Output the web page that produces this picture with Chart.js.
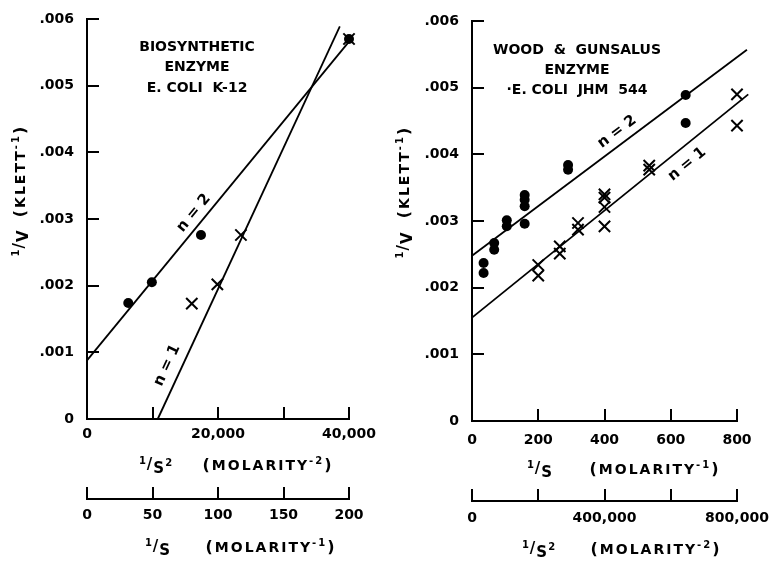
<!DOCTYPE html>
<html><head><meta charset="utf-8">
<script src="https://cdn.jsdelivr.net/npm/chart.js@4/dist/chart.umd.min.js"></script>
<style>
html,body{margin:0;padding:0;background:#fff;}
#wrap{position:relative;width:770px;height:563px;overflow:hidden;}
.c{position:absolute;top:0;width:385px;height:563px;}
</style></head><body>
<div id="wrap">
<div class="c" style="left:0"><canvas id="left" width="385" height="563"></canvas></div>
<div class="c" style="left:385px"><canvas id="right" width="385" height="563"></canvas></div>
</div>
<script>
// ---------- Left panel: biosynthetic enzyme, E. coli K-12 (x = 1/S^2) ----------
const leftN2X = [6300, 9900, 17400, 40000];
const leftN2Y = [0.00174, 0.00205, 0.00276, 0.00570];
const leftN1X = [16000, 19900, 23500, 40000];
const leftN1Y = [0.00173, 0.00202, 0.00276, 0.00570];
const leftFitN2X = [0, 40000];
const leftFitN2Y = [0.00088, 0.00566];
const leftFitN1X = [10800, 38600];
const leftFitN1Y = [0, 0.00589];
const leftXTicks = [0, 10000, 20000, 30000, 40000];
const leftXTickLabels = ['0', '', '20,000', '', '40,000'];
const leftX2Ticks = [0, 50, 100, 150, 200];
const leftX2TickLabels = ['0', '50', '100', '150', '200'];

// ---------- Right panel: Wood & Gunsalus enzyme, E. coli JHM 544 (x = 1/S) ----------
const rightN2X = [35, 35, 67, 67, 105, 105, 159, 159, 159, 159, 290, 290, 645, 645];
const rightN2Y = [0.00237, 0.00222, 0.00267, 0.00257, 0.00301, 0.00292, 0.00339, 0.00332, 0.00322, 0.00296, 0.00384, 0.00377, 0.00489, 0.00447];
const rightN1X = [200, 200, 265, 265, 320, 320, 400, 400, 400, 400, 535, 535, 800, 800];
const rightN1Y = [0.00234, 0.00218, 0.00262, 0.00251, 0.00297, 0.00287, 0.00340, 0.00335, 0.00321, 0.00292, 0.00383, 0.00377, 0.00490, 0.00443];
const rightFitN2X = [0, 830];
const rightFitN2Y = [0.00248, 0.00557];
const rightFitN1X = [0, 834];
const rightFitN1Y = [0.00155, 0.00490];
const rightXTicks = [0, 200, 400, 600, 800];
const rightXTickLabels = ['0', '200', '400', '600', '800'];
const rightX2Ticks = [0, 200000, 400000, 600000, 800000];
const rightX2TickLabels = ['0', '', '400,000', '', '800,000'];

// shared y axis
const yTicks = [0, 0.001, 0.002, 0.003, 0.004, 0.005, 0.006];
const yTickLabels = ['0', '.001', '.002', '.003', '.004', '.005', '.006'];

// text
const leftTitle = ['BIOSYNTHETIC', 'ENZYME', 'E. COLI  K-12'];
const rightTitle = ['WOOD  &  GUNSALUS', 'ENZYME', '·E. COLI  JHM  544'];

const FAM = "'DejaVu Sans', sans-serif";

function pts(xs, ys) { return xs.map((x, i) => ({x: x, y: ys[i]})); }

function drawPieces(ctx, list, cx, cy, spacing) {
  ctx.letterSpacing = spacing + 'px';
  let total = 0;
  const ws = list.map(p => { ctx.font = 'bold ' + p.s + 'px ' + FAM; const w = ctx.measureText(p.t).width; total += w; return w; });
  let x = cx - total / 2;
  ctx.textAlign = 'left'; ctx.textBaseline = 'middle';
  list.forEach((p, i) => { ctx.font = 'bold ' + p.s + 'px ' + FAM; ctx.fillText(p.t, x, cy + (p.dy || 0)); x += ws[i]; });
}

function fracS(sq) {
  const a = [{t: '1', s: 10, dy: -5}, {t: '/', s: 15, dy: -1}, {t: 'S', s: 15, dy: 3}];
  if (sq) a.push({t: '2', s: 10, dy: -3});
  return a;
}
function molar(p) {
  return [{t: '(', s: 16}, {t: 'MOLARITY', s: 14}, {t: '-' + p, s: 10, dy: -5}, {t: ')', s: 16}];
}

const annotPlugin = {
  id: 'annot',
  afterDraw(chart) {
    const o = chart.options.plugins.annot;
    const ctx = chart.ctx;
    const xs = chart.scales.x, x2 = chart.scales.x2, ys = chart.scales.y;
    ctx.save();
    ctx.fillStyle = '#000'; ctx.strokeStyle = '#000';
    // inward tick marks
    ctx.lineWidth = 2;
    ctx.beginPath();
    ys.ticks.forEach(t => { if (t.value === 0) return; const py = Math.round(ys.getPixelForValue(t.value)); ctx.moveTo(ys.right, py); ctx.lineTo(ys.right + 12, py); });
    xs.ticks.forEach(t => { if (t.value === 0) return; const px = Math.round(xs.getPixelForValue(t.value)); ctx.moveTo(px, xs.top); ctx.lineTo(px, xs.top - 12); });
    x2.ticks.forEach(t => { const px = Math.round(x2.getPixelForValue(t.value)); ctx.moveTo(px, x2.top + 1); ctx.lineTo(px, x2.top - 12); });
    ctx.stroke();
    // panel title
    ctx.letterSpacing = '0px';
    ctx.font = 'bold 14px ' + FAM; ctx.textAlign = 'center'; ctx.textBaseline = 'middle';
    o.title.forEach((t, i) => ctx.fillText(t, o.titleX, o.titleY[i]));
    // axis titles
    drawPieces(ctx, o.xTitle[0], o.xTitlePos[0], o.xTitlePos[2], 1);
    drawPieces(ctx, o.xTitle[1], o.xTitlePos[1], o.xTitlePos[2], 2);
    drawPieces(ctx, o.x2Title[0], o.x2TitlePos[0], o.x2TitlePos[2], 1);
    drawPieces(ctx, o.x2Title[1], o.x2TitlePos[1], o.x2TitlePos[2], 2);
    // y title (rotated)
    ctx.save();
    ctx.translate(o.yTitleX, 0);
    ctx.rotate(-Math.PI / 2);
    drawPieces(ctx, [{t: '1', s: 10, dy: -5}, {t: '/', s: 15, dy: -1}, {t: 'V', s: 15, dy: 3}], -o.yTitleY[1], 0, 1);
    drawPieces(ctx, [{t: '(', s: 16}, {t: 'KLETT', s: 14}, {t: '-1', s: 10, dy: -5}, {t: ')', s: 16}], -o.yTitleY[0], 0, 2);
    ctx.restore();
    // n labels along fitted lines
    o.nLabels.forEach(L => {
      const d = chart.data.datasets[L.ds].data;
      const p0x = xs.getPixelForValue(d[0].x), p0y = ys.getPixelForValue(d[0].y);
      const p1x = xs.getPixelForValue(d[1].x), p1y = ys.getPixelForValue(d[1].y);
      const ang = Math.atan2(p1y - p0y, p1x - p0x);
      const ax = xs.getPixelForValue(L.at);
      const f = (ax - p0x) / (p1x - p0x);
      const ay = p0y + f * (p1y - p0y);
      ctx.save();
      ctx.translate(ax, ay); ctx.rotate(ang);
      ctx.letterSpacing = '0px';
      ctx.font = 'bold 15px ' + FAM; ctx.textAlign = 'center'; ctx.textBaseline = 'middle';
      ctx.fillText(L.text, 0, L.off);
      ctx.restore();
    });
    ctx.restore();
  }
};

function buildChart(id, cfg) {
  const tickFont = {family: FAM, size: 14, weight: 'bold'};
  return new Chart(document.getElementById(id), {
    type: 'scatter',
    data: {datasets: [
      {label: 'n = 2 fit', data: pts(cfg.fitN2X, cfg.fitN2Y), showLine: true, borderColor: '#000', borderWidth: 1.8, pointRadius: 0, clip: false},
      {label: 'n = 1 fit', data: pts(cfg.fitN1X, cfg.fitN1Y), showLine: true, borderColor: '#000', borderWidth: 1.8, pointRadius: 0, clip: false},
      {label: 'n = 2', data: pts(cfg.n2X, cfg.n2Y), pointStyle: 'circle', pointRadius: 5, backgroundColor: '#000', borderColor: '#000', borderWidth: 0, clip: false},
      {label: 'n = 1', data: pts(cfg.n1X, cfg.n1Y), pointStyle: 'crossRot', pointRadius: 8, backgroundColor: '#000', borderColor: '#000', borderWidth: 2, clip: false}
    ]},
    options: {
      responsive: false, animation: false, devicePixelRatio: 1,
      layout: {padding: {left: 0, right: cfg.padRight, top: cfg.padTop, bottom: 0}},
      plugins: {legend: {display: false}, tooltip: {enabled: false}, annot: cfg.annot},
      scales: {
        x: {type: 'linear', position: 'bottom', weight: 0, min: cfg.xTicks[0], max: cfg.xTicks[cfg.xTicks.length - 1],
            afterBuildTicks: s => { s.ticks = cfg.xTicks.map(v => ({value: v})); },
            afterFit: s => { s.height = cfg.xH; },
            ticks: {callback: (v, i) => cfg.xLabels[i], font: tickFont, color: '#000', padding: cfg.xPad, maxRotation: 0, autoSkip: false},
            grid: {display: false}, border: {display: true, color: '#000', width: 2}},
        x2: {type: 'linear', position: 'bottom', weight: 1, min: cfg.x2Ticks[0], max: cfg.x2Ticks[cfg.x2Ticks.length - 1],
            afterBuildTicks: s => { s.ticks = cfg.x2Ticks.map(v => ({value: v})); },
            afterFit: s => { s.height = cfg.x2H; },
            ticks: {callback: (v, i) => cfg.x2Labels[i], font: tickFont, color: '#000', padding: cfg.x2Pad, maxRotation: 0, autoSkip: false},
            grid: {display: false}, border: {display: true, color: '#000', width: 2}},
        y: {type: 'linear', position: 'left', min: 0, max: 0.006,
            afterBuildTicks: s => { s.ticks = yTicks.map(v => ({value: v})); },
            afterFit: s => { s.width = 87; },
            ticks: {callback: (v, i) => yTickLabels[i], font: tickFont, color: '#000', padding: 5, autoSkip: false},
            grid: {display: false}, border: {display: true, color: '#000', width: 2}}
      }
    },
    plugins: [annotPlugin]
  });
}

buildChart('left', {
  n2X: leftN2X, n2Y: leftN2Y, n1X: leftN1X, n1Y: leftN1Y,
  fitN2X: leftFitN2X, fitN2Y: leftFitN2Y, fitN1X: leftFitN1X, fitN1Y: leftFitN1Y,
  xTicks: leftXTicks, xLabels: leftXTickLabels, x2Ticks: leftX2Ticks, x2Labels: leftX2TickLabels,
  padRight: 36, padTop: 19, xH: 80, x2H: 64, xPad: -1, x2Pad: 0,
  annot: {
    title: leftTitle, titleX: 197, titleY: [47, 67.5, 88],
    xTitle: [fracS(true), molar('2')], xTitlePos: [156, 268, 466],
    x2Title: [fracS(false), molar('1')], x2TitlePos: [158, 271, 548],
    yTitleX: 21, yTitleY: [171, 243],
    nLabels: [{ds: 0, at: 17600, off: -11, text: 'n = 2'}, {ds: 1, at: 14180, off: -14, text: 'n = 1'}]
  }
});

buildChart('right', {
  n2X: rightN2X, n2Y: rightN2Y, n1X: rightN1X, n1Y: rightN1Y,
  fitN2X: rightFitN2X, fitN2Y: rightFitN2Y, fitN1X: rightFitN1X, fitN1Y: rightFitN1Y,
  xTicks: rightXTicks, xLabels: rightXTickLabels, x2Ticks: rightX2Ticks, x2Labels: rightX2TickLabels,
  padRight: 33, padTop: 21, xH: 80, x2H: 62, xPad: 3, x2Pad: 1,
  annot: {
    title: rightTitle, titleX: 192, titleY: [50, 70.5, 90],
    xTitle: [fracS(false), molar('1')], xTitlePos: [155, 270, 470],
    x2Title: [fracS(true), molar('2')], x2TitlePos: [154, 271, 550],
    yTitleX: 20, yTitleY: [172, 245],
    nLabels: [{ds: 0, at: 460, off: -12, text: 'n = 2'}, {ds: 1, at: 619, off: 16, text: 'n = 1'}]
  }
});
</script>
</body></html>
